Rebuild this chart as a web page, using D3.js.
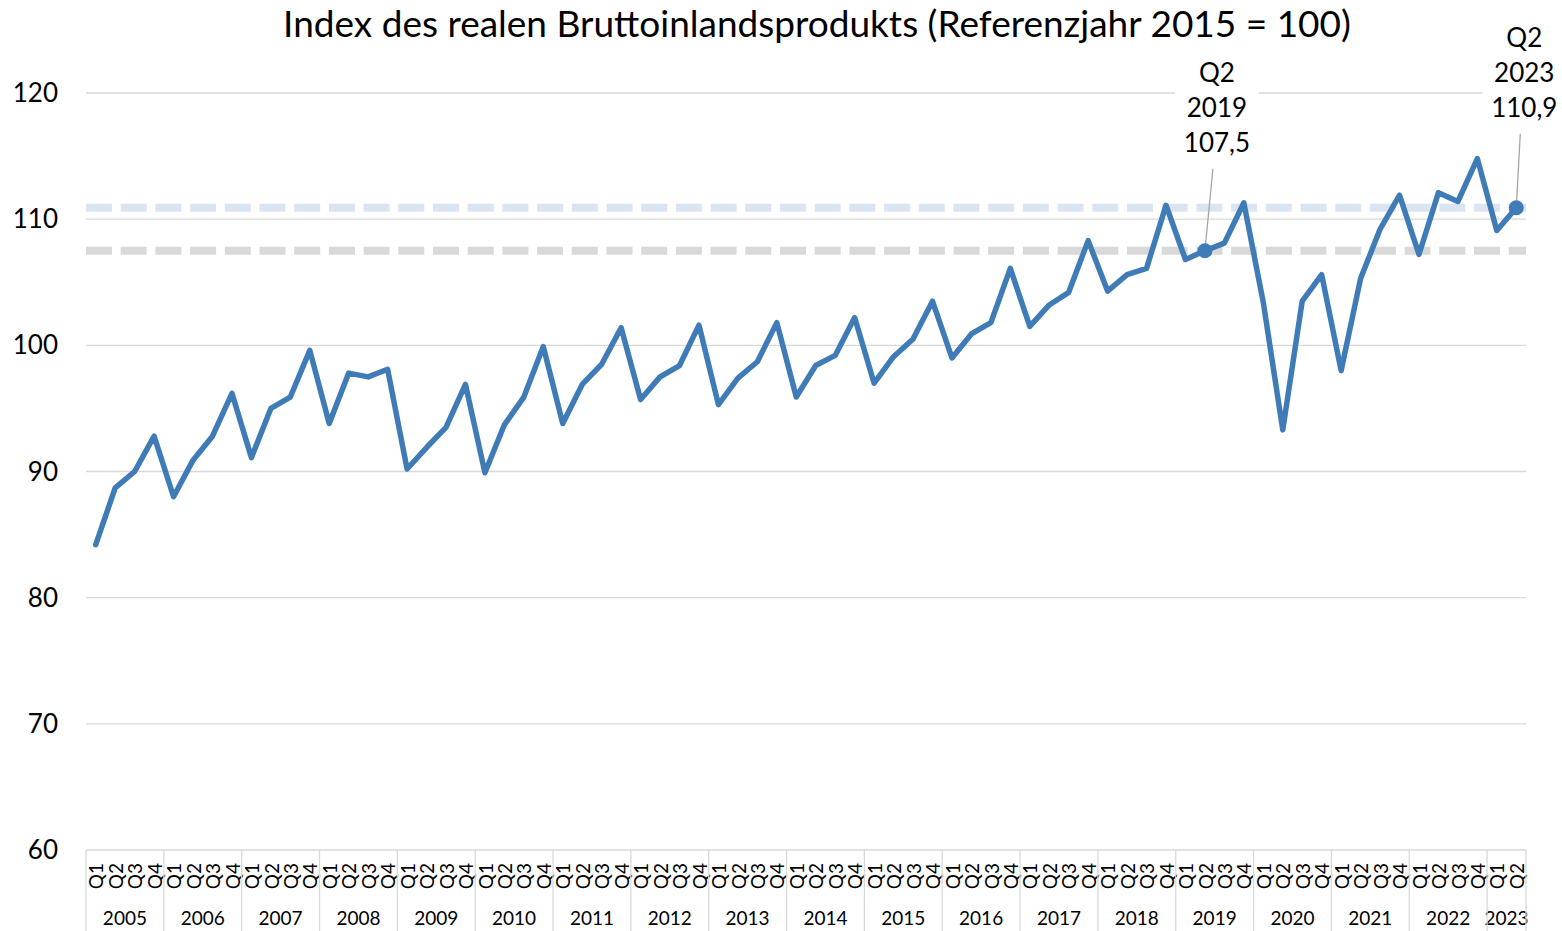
<!DOCTYPE html>
<html>
<head>
<meta charset="utf-8">
<script src="https://cdn.jsdelivr.net/npm/d3@7"></script>
<style>
  body { margin: 0; background: #fff; }
  text { font-family: Lato, "Open Sans", sans-serif; fill: #000; }
</style>
</head>
<body>
<div id="chart"></div>
<script>
const w = 1562;
const h = 931;

// data
const years = [2005, 2006, 2007, 2008, 2009, 2010, 2011, 2012, 2013, 2014,
               2015, 2016, 2017, 2018, 2019, 2020, 2021, 2022, 2023];
const quarters = ["Q1", "Q2", "Q3", "Q4"];
const values = [
  84.2, 88.7, 90.0, 92.8,   // 2005
  88.0, 90.9, 92.8, 96.2,   // 2006
  91.1, 95.0, 95.9, 99.6,   // 2007
  93.8, 97.8, 97.5, 98.1,   // 2008
  90.2, 91.9, 93.5, 96.9,   // 2009
  89.9, 93.7, 95.9, 99.9,   // 2010
  93.8, 96.9, 98.5, 101.4,  // 2011
  95.7, 97.5, 98.4, 101.6,  // 2012
  95.3, 97.4, 98.7, 101.8,  // 2013
  95.9, 98.4, 99.2, 102.2,  // 2014
  97.0, 99.1, 100.5, 103.5, // 2015
  99.0, 100.9, 101.8, 106.1,// 2016
  101.5, 103.2, 104.2, 108.3,// 2017
  104.3, 105.6, 106.1, 111.1,// 2018
  106.8, 107.5, 108.1, 111.3,// 2019
  103.4, 93.3, 103.5, 105.6,// 2020
  98.0, 105.3, 109.2, 111.9,// 2021
  107.2, 112.1, 111.4, 114.8,// 2022
  109.1, 110.9             // 2023
];
const yTicks = [60, 70, 80, 90, 100, 110, 120];
const title = "Index des realen Bruttoinlandsprodukts (Referenzjahr 2015 = 100)";

// highlighted quarters with their labels
const highlights = [
  { key: "2019-Q2", value: 107.5, label: ["Q2", "2019", "107,5"], color: "#d9d9d9" },
  { key: "2023-Q2", value: 110.9, label: ["Q2", "2023", "110,9"], color: "#dbe5f1" }
];

// build categories
const cats = [];
years.forEach(y => quarters.forEach(q => {
  if (cats.length < values.length) cats.push({ year: y, q: q, key: y + "-" + q });
}));
cats.forEach((c, i) => c.value = values[i]);

const plotLeft = 86, plotRight = 1526, plotTop = 93, plotBottom = 850;

const x = d3.scaleBand()
  .domain(cats.map(c => c.key))
  .range([plotLeft, plotRight])
  .padding(0);

const y = d3.scaleLinear()
  .domain([60, 120])
  .range([plotBottom, plotTop]);

const cx = k => x(k) + x.bandwidth() / 2;

const svg = d3.select("#chart")
  .append("svg")
  .attr("width", w)
  .attr("height", h);

// title
svg.append("text")
  .attr("x", 817)
  .attr("y", 37)
  .attr("text-anchor", "middle")
  .style("font-size", "37px")
  .text(title);

// gridlines
svg.append("g")
  .selectAll("line")
  .data(yTicks)
  .enter()
  .append("line")
  .attr("x1", plotLeft)
  .attr("x2", plotRight)
  .attr("y1", d => y(d))
  .attr("y2", d => y(d))
  .attr("stroke", "#d9d9d9")
  .attr("stroke-width", 1.3);

// y labels
svg.append("g")
  .selectAll("text")
  .data(yTicks)
  .enter()
  .append("text")
  .attr("x", 58)
  .attr("y", d => y(d))
  .attr("dy", "0.35em")
  .attr("text-anchor", "end")
  .style("font-size", "26px")
  .text(d => d);

// reference lines (dashed)
svg.append("g")
  .selectAll("line")
  .data(highlights)
  .enter()
  .append("line")
  .attr("x1", plotLeft)
  .attr("x2", plotRight)
  .attr("y1", d => y(d.value))
  .attr("y2", d => y(d.value))
  .attr("stroke", d => d.color)
  .attr("stroke-width", 8)
  .attr("stroke-dasharray", "26 8.7");

// x axis: quarters and years
const axisG = svg.append("g");

axisG.selectAll(".qlab")
  .data(cats)
  .enter()
  .append("text")
  .attr("class", "qlab")
  .attr("transform", d => "translate(" + (cx(d.key) + 1) + "," + (plotBottom + 13) + ") rotate(-90)")
  .attr("text-anchor", "end")
  .attr("dy", "0.35em")
  .style("font-size", "19px")
  .text(d => d.q);

const yearSpans = years.map(yr => {
  const ks = cats.filter(c => c.year === yr).map(c => c.key);
  return { year: yr, x0: x(ks[0]), x1: x(ks[ks.length - 1]) + x.bandwidth() };
});

axisG.selectAll(".ylab")
  .data(yearSpans)
  .enter()
  .append("text")
  .attr("class", "ylab")
  .attr("x", d => (d.x0 + d.x1) / 2)
  .attr("y", 918)
  .attr("dy", "0.35em")
  .attr("text-anchor", "middle")
  .style("font-size", "19px")
  .text(d => d.year);

axisG.selectAll(".ydiv")
  .data(yearSpans.map(d => d.x0).concat([plotRight]))
  .enter()
  .append("line")
  .attr("x1", d => d)
  .attr("x2", d => d)
  .attr("y1", plotBottom)
  .attr("y2", h)
  .attr("stroke", "#d9d9d9")
  .attr("stroke-width", 1.3);

// series line
const line = d3.line()
  .x(d => cx(d.key))
  .y(d => y(d.value));

svg.append("path")
  .datum(cats)
  .attr("d", line)
  .attr("fill", "none")
  .attr("stroke", "#3f7cb7")
  .attr("stroke-width", 5.5)
  .attr("stroke-linejoin", "round")
  .attr("stroke-linecap", "round");

// annotations
const labelOffsets = { "2019-Q2": { dx: 12, dy: -178 }, "2023-Q2": { dx: 8, dy: -170 } };

highlights.forEach(hl => {
  const px = cx(hl.key), py = y(hl.value);
  const off = labelOffsets[hl.key];
  const lx = px + off.dx, ly = py + off.dy;
  const g = svg.append("g");

  g.append("rect")
    .attr("x", lx - 42)
    .attr("y", ly - 18)
    .attr("width", 84)
    .attr("height", 112)
    .attr("fill", "#fff");

  g.selectAll("text")
    .data(hl.label)
    .enter()
    .append("text")
    .attr("x", lx)
    .attr("y", (d, i) => ly + i * 35)
    .attr("dy", "0.35em")
    .attr("text-anchor", "middle")
    .style("font-size", "26px")
    .text(d => d);

  g.append("line")
    .attr("x1", lx - 4)
    .attr("y1", ly + 96)
    .attr("x2", px)
    .attr("y2", py)
    .attr("stroke", "#a6a6a6")
    .attr("stroke-width", 1.3);

  g.append("circle")
    .attr("cx", px)
    .attr("cy", py)
    .attr("r", 7.5)
    .attr("fill", "#3f7cb7");
});
</script>
</body>
</html>
